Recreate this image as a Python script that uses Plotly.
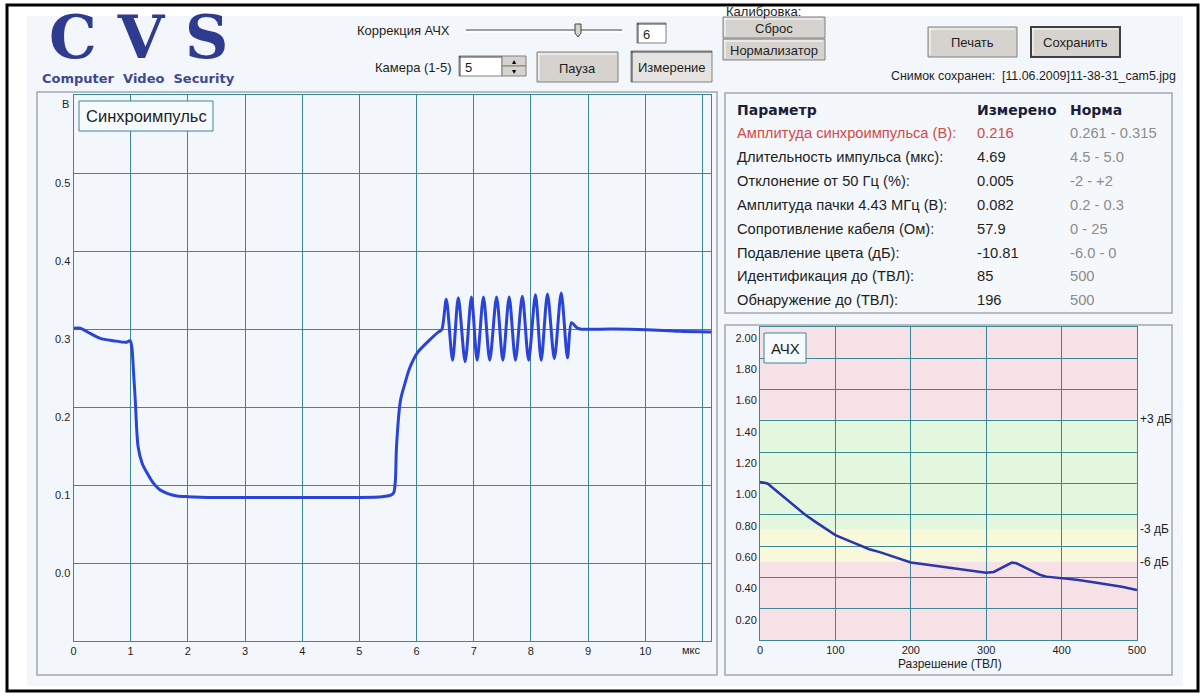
import plotly.graph_objects as go

# ---------------- DATA ----------------
# Sync pulse (time in µs, voltage in V)
t_sync = [0.00, 0.12, 0.30, 0.47, 0.70, 0.93, 0.99, 1.02, 1.05, 1.08, 1.13, 1.20, 1.29, 1.40, 1.51,
          1.65, 1.81, 2.00, 2.50, 3.00, 3.50, 4.00, 4.50, 5.00, 5.40, 5.55, 5.60, 5.63, 5.65, 5.72,
          5.80, 5.88, 6.02, 6.23, 6.38, 6.44,
          6.52, 6.63, 6.73, 6.85, 6.96, 7.06, 7.17, 7.28, 7.40, 7.51, 7.62, 7.73, 7.85, 7.96,
          8.08, 8.18, 8.29, 8.41, 8.53, 8.64,
          8.71, 8.80, 8.86, 9.43, 10.02, 10.60, 11.15]
v_sync = [0.301, 0.301, 0.294, 0.288, 0.285, 0.283, 0.285, 0.277, 0.245, 0.209, 0.149, 0.128, 0.115, 0.102, 0.094,
          0.089, 0.086, 0.085, 0.084, 0.084, 0.084, 0.084, 0.084, 0.084, 0.085, 0.087, 0.090, 0.106, 0.150, 0.209,
          0.231, 0.250, 0.270, 0.286, 0.296, 0.299,
          0.338, 0.260, 0.340, 0.258, 0.341, 0.260, 0.341, 0.260, 0.341, 0.260, 0.341, 0.260, 0.342, 0.260,
          0.344, 0.260, 0.345, 0.262, 0.346, 0.263,
          0.308, 0.302, 0.300, 0.300, 0.299, 0.297, 0.296]

# Frequency response (resolution in TVL, relative amplitude)
res_tvl = [0, 10, 20, 30, 40, 50, 60, 75, 90, 100, 115, 130, 145, 160, 175, 190, 200, 215, 230, 250,
           270, 285, 300, 310, 318, 326, 334, 340, 348, 356, 364, 372, 380, 390, 400, 420, 440, 460, 480, 500]
afc = [1.01, 1.00, 0.96, 0.92, 0.88, 0.84, 0.80, 0.75, 0.70, 0.67, 0.64, 0.61, 0.58, 0.56, 0.535, 0.51,
       0.495, 0.485, 0.475, 0.46, 0.45, 0.44, 0.43, 0.435, 0.455, 0.48, 0.495, 0.49, 0.47, 0.45, 0.43,
       0.415, 0.405, 0.40, 0.395, 0.385, 0.37, 0.355, 0.34, 0.32]

x_ticks_sync = [0, 1, 2, 3, 4, 5, 6, 7, 8, 9, 10, 11]
x_labels_sync = ['0', '1', '2', '3', '4', '5', '6', '7', '8', '9', '10', '']
y_ticks_sync = [0.0, 0.1, 0.2, 0.3, 0.4, 0.5]
y_labels_sync = ['0.0', '0.1', '0.2', '0.3', '0.4', '0.5']

x_ticks_afc = [0, 100, 200, 300, 400, 500]
y_ticks_afc = [0.2, 0.4, 0.6, 0.8, 1.0, 1.2, 1.4, 1.6, 1.8, 2.0]
y_labels_afc = ['0.20', '0.40', '0.60', '0.80', '1.00', '1.20', '1.40', '1.60', '1.80', '2.00']

band_levels = [0.0, 0.501, 0.707, 1.413, 2.0]
band_colors = ['#f6e1e7', '#f8f8da', '#e3f6de', '#f6e1e7']
db_levels = [1.413, 0.707, 0.501]
db_labels = ['+3 дБ', '-3 дБ', '-6 дБ']

table_header = ['Параметр', 'Измерено', 'Норма']
table_params = ['Амплитуда синхроимпульса (В):', 'Длительность импульса (мкс):', 'Отклонение от 50 Гц (%):',
                'Амплитуда пачки 4.43 МГц (В):', 'Сопротивление кабеля (Ом):', 'Подавление цвета (дБ):',
                'Идентификация до (ТВЛ):', 'Обнаружение до (ТВЛ):']
table_measured = ['0.216', '4.69', '0.005', '0.082', '57.9', '-10.81', '85', '196']
table_norm = ['0.261 - 0.315', '4.5 - 5.0', '-2 - +2', '0.2 - 0.3', '0 - 25', '-6.0 - 0', '500', '500']

# ---------------- LAYOUT HELPERS ----------------
W, H = 1204, 698
def fx(p): return p / W
def fy(p): return 1 - p / H

GRID = '#3a8795'
FONT = 'Liberation Sans'
shapes = []
anns = []

def rect(x0, y0, x1, y1, fill=None, line='#a0a8b0', lw=1, layer='below'):
    shapes.append(dict(type='rect', xref='paper', yref='paper', x0=fx(x0), x1=fx(x1), y0=fy(y1), y1=fy(y0),
                       fillcolor=fill if fill else 'rgba(0,0,0,0)',
                       line=dict(color=line, width=lw) if lw else dict(width=0), layer=layer))

def hline(x0, x1, y, color, w=1, layer='above'):
    shapes.append(dict(type='line', xref='paper', yref='paper', x0=fx(x0), x1=fx(x1), y0=fy(y), y1=fy(y),
                       line=dict(color=color, width=w), layer=layer))

def vline(x, y0, y1, color, w=1, layer='above'):
    shapes.append(dict(type='line', xref='paper', yref='paper', x0=fx(x), x1=fx(x), y0=fy(y0), y1=fy(y1),
                       line=dict(color=color, width=w), layer=layer))

def text(x, y, s, size=13, color='#1e1e1e', anchor='left', family=FONT):
    anns.append(dict(xref='paper', yref='paper', x=fx(x), y=fy(y), text=s, showarrow=False,
                     xanchor=anchor, yanchor='middle', font=dict(size=size, color=color, family=family)))

def button(x0, y0, x1, y1, label, kind='normal'):
    if kind == 'pressed':
        rect(x0, y0, x1, y1, fill='#e6e4e0', line='#808080', lw=1, layer='above')
        hline(x0, x1, y0 + 1, '#404040')
        vline(x0 + 1, y0, y1, '#404040')
    else:
        rect(x0, y0, x1, y1, fill='#d6d3ce', line='#404040' if kind == 'default' else '#808080',
             lw=2 if kind == 'default' else 1, layer='above')
        hline(x0 + 1, x1 - 2, y0 + 2, '#ffffff')
        vline(x0 + 2, y0 + 1, y1 - 2, '#ffffff')
    text((x0 + x1) / 2, (y0 + y1) / 2 + 1, label, 13, '#1e1e1e', 'center')

def textbox(x0, y0, x1, y1, val):
    rect(x0, y0, x1, y1, fill='#ffffff', line='#808080', lw=1, layer='above')
    hline(x0, x1, y0 + 1, '#404040')
    vline(x0 + 1, y0, y1, '#404040')
    text(x0 + 4, (y0 + y1) / 2 + 1, val, 13, '#1e1e1e', 'left')

# background & frame
rect(27, 16, 1183, 686, fill='#f3f7fb', lw=0)
rect(7, 5, 1198, 691, line='#000000', lw=3, layer='above')
# panels
rect(37, 92, 717, 675, fill='#f3f7fb', line='#a2a9b0', lw=1.5)
rect(725, 93, 1172, 313, fill='#f4f8fb', line='#a2a9b0', lw=1.5)
rect(725, 325, 1172, 675, fill='#f3f7fb', line='#a2a9b0', lw=1.5)

# AFC bands
for i in range(len(band_colors)):
    shapes.append(dict(type='rect', xref='x2', yref='y2', x0=0, x1=500, y0=band_levels[i], y1=band_levels[i + 1],
                       fillcolor=band_colors[i], line=dict(width=0), layer='below'))
for lv, lb in zip(db_levels, db_labels):
    anns.append(dict(xref='paper', yref='y2', x=fx(1138), y=lv, text=lb, showarrow=False, xanchor='left',
                     yanchor='middle', font=dict(size=12, color='#1e1e1e', family=FONT)))

# chart title boxes
rect(79, 101, 213, 131, fill='#f7fafc', line=GRID, lw=1, layer='above')
text(146, 116, 'Синхроимпульс', 16.5, '#1e1e1e', 'center')
rect(764, 333, 806, 363, fill='#f7fafc', line=GRID, lw=1, layer='above')
text(785, 348, 'АЧХ', 15, '#1e1e1e', 'center')

text(65, 104, 'В', 11, '#1e1e1e', 'center')
text(691, 650, 'мкс', 11, '#1e1e1e', 'center')
text(950, 664, 'Разрешение (ТВЛ)', 12, '#1e1e1e', 'center')

# logo
LOGO = '#2e3b8e'
text(138, 37, '<b>C V S</b>', 60, LOGO, 'center', 'DejaVu Serif')
text(138, 78, '<b>Computer  Video  Security</b>', 13, '#3d4a8c', 'center', 'DejaVu Sans')

# top controls
text(452, 30, 'Коррекция АЧХ', 13, '#1e1e1e', 'right')
hline(466, 622, 30, '#808080', 1.5)
hline(466, 622, 32, '#ffffff', 1.5)
shapes.append(dict(type='path', xref='paper', yref='paper',
                   path=f'M {fx(575)},{fy(24)} L {fx(581)},{fy(24)} L {fx(581)},{fy(33)} L {fx(578)},{fy(37)} '
                        f'L {fx(575)},{fy(33)} Z',
                   fillcolor='#d6d3ce', line=dict(color='#404040', width=1), layer='above'))
textbox(637, 23, 666, 43, '6')
text(454, 67, 'Камера (1-5)', 13, '#1e1e1e', 'right')
textbox(459, 56, 502, 76, '5')
rect(502, 56, 526, 66, fill='#d6d3ce', line='#808080', lw=1, layer='above')
rect(502, 66, 526, 76, fill='#d6d3ce', line='#808080', lw=1, layer='above')
text(514, 61, '▴', 8, '#000000', 'center')
text(514, 71, '▾', 8, '#000000', 'center')
button(537, 52, 618, 82, 'Пауза')
button(631, 51, 712, 82, 'Измерение', 'pressed')
text(724, 12, 'Калибровка:', 13, '#1e1e1e', 'left')
button(723, 17, 825, 38, 'Сброс')
button(723, 39, 825, 60, 'Нормализатор')
button(928, 27, 1017, 57, 'Печать')
button(1031, 27, 1120, 57, 'Сохранить', 'default')
text(889, 76, 'Снимок сохранен:  [11.06.2009]11-38-31_cam5.jpg', 12.4, '#1e1e1e', 'left')

# table
col_x = [735, 975, 1068]
for cx, h in zip(col_x, table_header):
    text(cx, 110, '<b>' + h + '</b>', 14, '#1a1f3a', 'left', 'DejaVu Sans')
for i in range(len(table_params)):
    yy = 133 + 23.9 * i
    c1 = '#d4484a' if i == 0 else '#1e1e1e'
    text(col_x[0], yy, table_params[i], 14.7, c1)
    text(col_x[1], yy, table_measured[i], 14.7, c1)
    text(col_x[2], yy, table_norm[i], 14.7, '#8c8c8c')

# ---------------- FIGURE ----------------
fig = go.Figure()
fig.add_trace(go.Scatter(x=t_sync, y=v_sync, mode='lines', xaxis='x', yaxis='y',
                         line=dict(color='#2a44d6', width=3, shape='spline', smoothing=0.8),
                         hoverinfo='skip'))
fig.add_trace(go.Scatter(x=res_tvl, y=afc, mode='lines', xaxis='x2', yaxis='y2',
                         line=dict(color='#2b36aa', width=2.5), hoverinfo='skip'))

axis_common = dict(showgrid=True, gridcolor=GRID, gridwidth=1, showline=True, linecolor=GRID, linewidth=1,
                   mirror=True, zeroline=False, ticks='', tickfont=dict(size=11, color='#1e1e1e', family=FONT),
                   fixedrange=True, automargin=False)
fig.update_layout(
    template='none',
    width=W, height=H, autosize=False, margin=dict(l=0, r=0, t=0, b=0, pad=0),
    paper_bgcolor='#ffffff', plot_bgcolor='#f5f9fc', showlegend=False, hovermode=False,
    xaxis=dict(domain=[fx(73.5), fx(711)], range=[0, 11.15], tickmode='array', tickvals=x_ticks_sync,
               ticktext=x_labels_sync, anchor='y', **axis_common),
    yaxis=dict(domain=[fy(641), fy(95)], range=[-0.1, 0.6], tickmode='array', tickvals=y_ticks_sync,
               ticktext=y_labels_sync, anchor='x', ticklabelshift=10, **axis_common),
    xaxis2=dict(domain=[fx(760), fx(1137)], range=[0, 500], tickmode='array', tickvals=x_ticks_afc,
                anchor='y2', **axis_common),
    yaxis2=dict(domain=[fy(640), fy(327)], range=[0, 2.0], tickmode='array', tickvals=y_ticks_afc,
                ticktext=y_labels_afc, anchor='x2', ticklabelshift=11, **axis_common),
    shapes=shapes, annotations=anns,
)

fig.write_html('out.html', config={'displayModeBar': False, 'responsive': False},
               post_script="document.documentElement.style.margin='0';document.body.style.margin='0';"
                           "document.body.style.padding='0';document.body.style.overflow='hidden';")
